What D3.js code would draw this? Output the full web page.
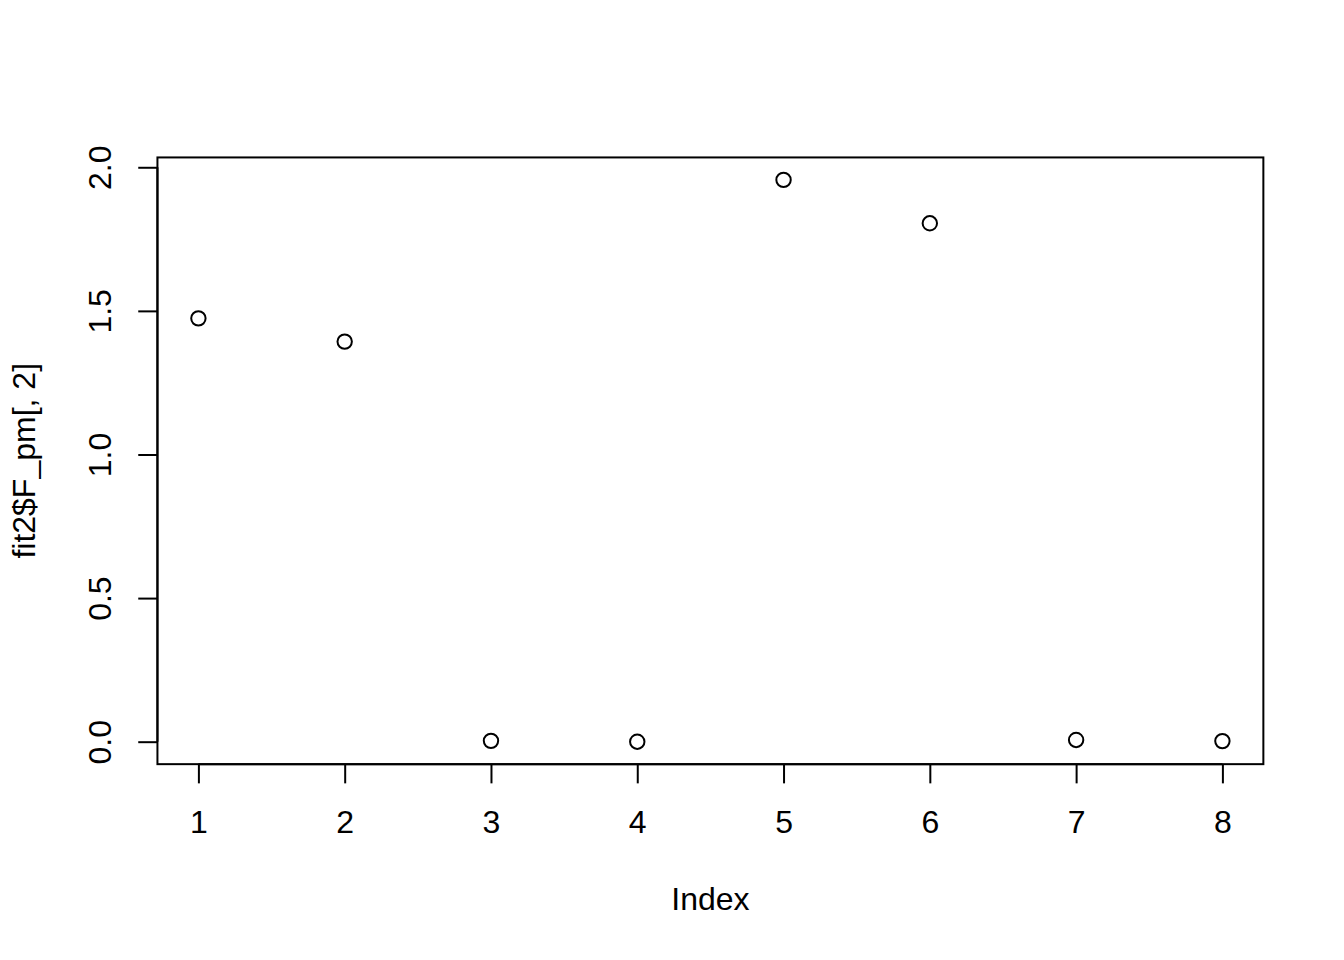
<!DOCTYPE html>
<html>
<head>
<meta charset="utf-8">
<script src="https://cdn.jsdelivr.net/npm/d3@7"></script>
<style>
  html, body { margin: 0; padding: 0; background: #fff; }
  text { font-family: "Liberation Sans", Arial, Helvetica, sans-serif; fill: #000; }
</style>
</head>
<body>
<div id="chart"></div>
<script>
"use strict";

// data
var index = [1, 2, 3, 4, 5, 6, 7, 8];
var values = [1.474, 1.393, 0.003, 0.000, 1.956, 1.805, 0.006, 0.002];
var xTicks = [1, 2, 3, 4, 5, 6, 7, 8];
var yTicks = [0, 0.5, 1.0, 1.5, 2.0];
var xTitle = "Index";
var yTitle = "fit2$F_pm[, 2]";

var width = 1344, height = 960;
var lineH = 38.4;  // one margin line (12pt at 192 dpi * 1.2)
var margin = {top: 4.1 * lineH, right: 2.1 * lineH, bottom: 5.1 * lineH, left: 4.1 * lineH};
var fontSize = 32;
var lwd = 2;

// R style 4% padded ranges
function padded(ext) {
  var d = (ext[1] - ext[0]) * 0.04;
  return [ext[0] - d, ext[1] + d];
}

var x = d3.scaleLinear()
  .domain(padded(d3.extent(index)))
  .range([margin.left, width - margin.right]);

var y = d3.scaleLinear()
  .domain(padded(d3.extent(values)))
  .range([height - margin.bottom, margin.top]);

var svg = d3.select("#chart")
  .append("svg")
  .attr("width", width)
  .attr("height", height);

svg.append("rect")
  .attr("width", width)
  .attr("height", height)
  .attr("fill", "#fff");

// x axis
var xAxis = d3.axisBottom(x)
  .tickValues(xTicks)
  .tickFormat(d3.format("d"))
  .tickSize(lineH * 0.5)
  .tickPadding(0);

var gx = svg.append("g")
  .attr("transform", "translate(0," + (height - margin.bottom) + ")")
  .call(xAxis);
gx.select(".domain")
  .attr("d", "M" + x(xTicks[0]) + ",0H" + x(xTicks[xTicks.length - 1]));
gx.selectAll(".tick text")
  .attr("y", lineH * 1.8)
  .attr("dy", null)
  .attr("font-size", fontSize);

// y axis
var yAxis = d3.axisLeft(y)
  .tickValues(yTicks)
  .tickFormat(d3.format(".1f"))
  .tickSize(lineH * 0.5)
  .tickPadding(0);

var gy = svg.append("g")
  .attr("transform", "translate(" + margin.left + ",0)")
  .call(yAxis);
gy.select(".domain")
  .attr("d", "M0," + y(yTicks[0]) + "V" + y(yTicks[yTicks.length - 1]));
gy.selectAll(".tick text")
  .attr("x", null)
  .attr("dy", null)
  .attr("text-anchor", "middle")
  .attr("transform", "translate(" + (-lineH * 1.2) + ",0) rotate(-90)")
  .attr("font-size", fontSize);

svg.selectAll(".domain, .tick line")
  .attr("stroke", "#000")
  .attr("stroke-width", lwd);
svg.selectAll(".tick text").attr("fill", "#000");

// box
svg.append("rect")
  .attr("x", margin.left)
  .attr("y", margin.top)
  .attr("width", width - margin.left - margin.right)
  .attr("height", height - margin.top - margin.bottom)
  .attr("fill", "none")
  .attr("stroke", "#000")
  .attr("stroke-width", lwd);

// points
svg.append("g")
  .selectAll("circle")
  .data(index)
  .enter()
  .append("circle")
  .attr("cx", function(d) { return x(d); })
  .attr("cy", function(d, i) { return y(values[i]); })
  .attr("r", 7.2)
  .attr("fill", "none")
  .attr("stroke", "#000")
  .attr("stroke-width", lwd);

// titles
svg.append("text")
  .attr("x", (margin.left + width - margin.right) / 2)
  .attr("y", height - margin.bottom + lineH * 3.8)
  .attr("text-anchor", "middle")
  .attr("font-size", fontSize)
  .text(xTitle);

svg.append("text")
  .attr("transform", "translate(" + (margin.left - lineH * 3.2) + "," +
    ((margin.top + height - margin.bottom) / 2) + ") rotate(-90)")
  .attr("text-anchor", "middle")
  .attr("font-size", fontSize)
  .text(yTitle);
</script>
</body>
</html>
